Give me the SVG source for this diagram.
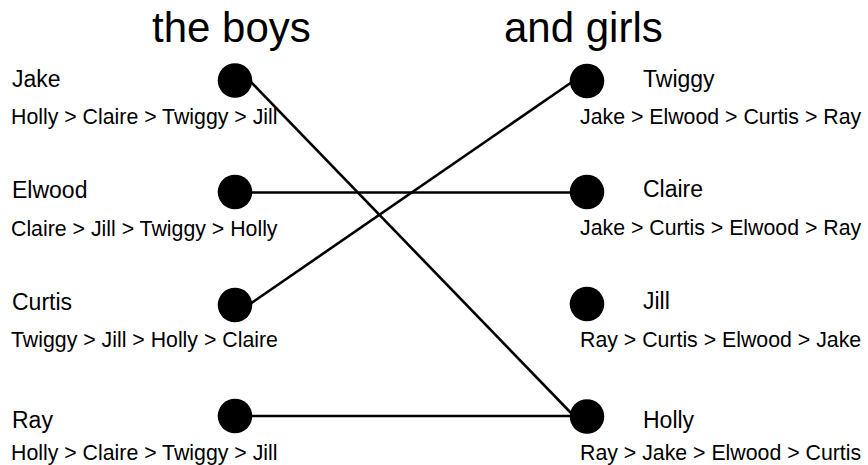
<svg xmlns="http://www.w3.org/2000/svg" width="868" height="465" viewBox="0 0 868 465">
<style>
text{font-family:"Liberation Sans",Arial,sans-serif;fill:#000}
.title{font-size:42px}
.name{font-size:23px}
.pref{font-size:21.3px}
.dot{fill:#000}
.edge{stroke:#000;stroke-width:2.6;fill:none}
</style>
<rect width="868" height="465" fill="#fff"/>
<text class="title" x="152" y="42">the boys</text>
<text class="title" x="504" y="42">and girls</text>
<g id="connectors">
<line class="edge" x1="250" y1="81" x2="572" y2="414"/>
<line class="edge" x1="250" y1="192.5" x2="572" y2="192.5"/>
<line class="edge" x1="250" y1="304" x2="572" y2="82"/>
<line class="edge" x1="250" y1="416" x2="572" y2="416"/>
</g>
<g id="jake"><circle class="dot" cx="235" cy="80.5" r="17.3"/><text class="name" x="12" y="87">Jake</text><text class="pref" x="11" y="124">Holly &gt; Claire &gt; Twiggy &gt; Jill</text></g>
<g id="elwood"><circle class="dot" cx="235" cy="192" r="17.3"/><text class="name" x="12" y="198">Elwood</text><text class="pref" x="11" y="235.5">Claire &gt; Jill &gt; Twiggy &gt; Holly</text></g>
<g id="curtis"><circle class="dot" cx="235" cy="305" r="17.3"/><text class="name" x="12" y="310">Curtis</text><text class="pref" x="11" y="346.5">Twiggy &gt; Jill &gt; Holly &gt; Claire</text></g>
<g id="ray"><circle class="dot" cx="235" cy="416" r="17.3"/><text class="name" x="12" y="428">Ray</text><text class="pref" x="11" y="460">Holly &gt; Claire &gt; Twiggy &gt; Jill</text></g>
<g id="twiggy"><circle class="dot" cx="587" cy="81" r="17.3"/><text class="name" x="643" y="87">Twiggy</text><text class="pref" x="580" y="123.5">Jake &gt; Elwood &gt; Curtis &gt; Ray</text></g>
<g id="claire"><circle class="dot" cx="587" cy="192" r="17.3"/><text class="name" x="643" y="197">Claire</text><text class="pref" x="580" y="234.5">Jake &gt; Curtis &gt; Elwood &gt; Ray</text></g>
<g id="jill"><circle class="dot" cx="587" cy="304" r="17.3"/><text class="name" x="643" y="308.5">Jill</text><text class="pref" x="580" y="346.5">Ray &gt; Curtis &gt; Elwood &gt; Jake</text></g>
<g id="holly"><circle class="dot" cx="587" cy="416.5" r="17.3"/><text class="name" x="643" y="428">Holly</text><text class="pref" x="580" y="460">Ray &gt; Jake &gt; Elwood &gt; Curtis</text></g>
</svg>
